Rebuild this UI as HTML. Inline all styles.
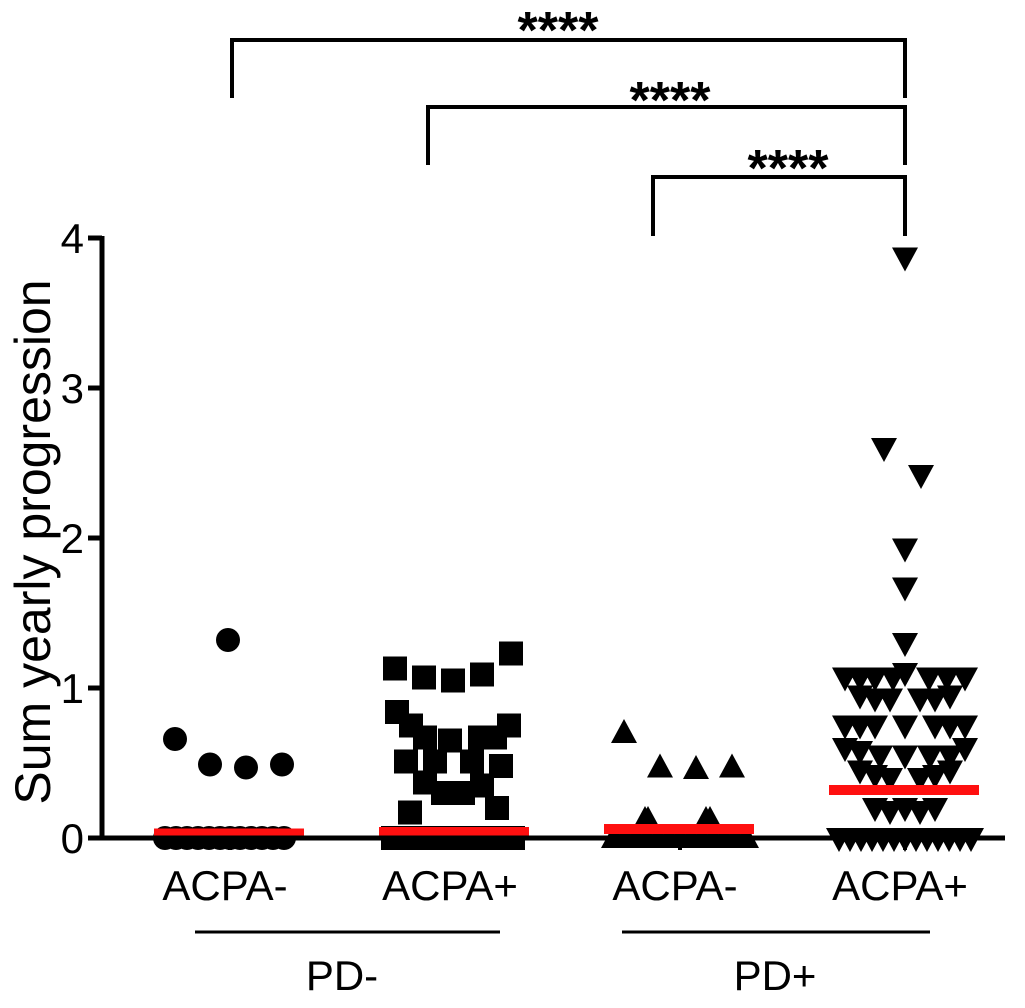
<!DOCTYPE html>
<html><head><meta charset="utf-8"><style>
body{margin:0;background:#fff}
svg{display:block;font-family:"Liberation Sans",Arial,sans-serif}
</style></head><body>
<svg id="chart" width="1025" height="1008" viewBox="0 0 1025 1008"></svg>
<script>
const categories=["ACPA-","ACPA+","ACPA-","ACPA+"];
const groups=["PD-","PD+"];
const yTicks=[0,1,2,3,4];
const medians=[0.03,0.04,0.06,0.32];
// values per group, with horizontal jitter (px offset from centre)
const g1Vals=[1.32,0.66,0.49,0.47,0.49,0,0,0,0,0,0,0,0,0,0,0,0];
const g1Jit=[-2,-55,-20,16,52,-65,-54,-43,-32,-21,-10,0,10,21,32,43,54];
const g2Vals=[1.13,1.07,1.05,1.09,1.23,0.84,0.75,0.67,0.65,0.67,0.75,0.67,0.51,0.51,0.51,0.48,0.37,0.30,0.30,0.35,0.17,0.20,0,0,0,0,0,0,0,0,0,0,0];
const g2Jit=[-60,-31,-2,27,56,-58,-44,-30,-5,25,54,40,-49,-20,17,46,-30,-12,8,27,-45,42,-62,-50,-38,-26,-14,-2,10,22,34,46,58];
const g3Vals=[0.70,0.47,0.46,0.47,0.12,0.12,0.12,0.12,0,0,0,0,0,0,0,0,0,0,0,0,0];
const g3Jit=[-56,-20,16,52,-35,-32,26,30,-66,-55,-44,-33,-22,-11,0,11,22,33,44,55,66];
const g4Vals=[3.87,2.6,2.42,1.93,1.67,1.3,1.07,1.07,1.07,1.07,1.07,1.07,1.07,1.1,0.95,0.93,0.93,0.93,0.93,0.95,0.75,0.75,0.75,0.75,0.75,0.75,0.75,0.6,0.58,0.55,0.55,0.55,0.55,0.6,0.45,0.42,0.4,0.4,0.42,0.45,0.2,0.18,0.2,0.18,0.2,0,0,0,0,0,0,0,0,0,0,0,0,0];
const g4Jit=[0,-21,16,0,0,0,-60,-45,-30,-12,24,42,60,0,-45,-30,-15,15,30,45,-60,-45,-30,0,30,45,60,-60,-45,-25,0,25,45,60,-45,-30,-15,15,30,45,-30,-15,0,15,30,-66,-55,-44,-33,-22,-11,0,11,22,33,44,55,66];
const allVals=[g1Vals,g2Vals,g3Vals,g4Vals];
const allJit=[g1Jit,g2Jit,g3Jit,g4Jit];
const shapes=["circle","square","tri","tridown"];

const svg=document.getElementById('chart');
const NS="http://www.w3.org/2000/svg";
const y0=838,pxPerUnit=150;
const yS=v=>y0-v*pxPerUnit;
const xS=i=>230+i*225;
function el(t,a,p){const e=document.createElementNS(NS,t);for(const k in a)e.setAttribute(k,a[k]);(p||svg).appendChild(e);return e;}

allVals.forEach((vals,gi)=>{
  const g=el('g',{});
  
  
  vals.forEach((v,j)=>{
    const cx=xS(gi)+allJit[gi][j],cy=yS(v);let m;
    if(shapes[gi]==="circle")m=el('circle',{cx:cx,cy:cy,r:12,fill:'#000'},g);
    else if(shapes[gi]==="square")m=el('rect',{x:cx-12,y:cy-12,width:24,height:24,fill:'#000'},g);
    else if(shapes[gi]==="tri")m=el('polygon',{points:`${cx},${cy-14} ${cx-13},${cy+10} ${cx+13},${cy+10}`,fill:'#000'},g);
    else m=el('polygon',{points:`${cx},${cy+14} ${cx-13},${cy-10} ${cx+13},${cy-10}`,fill:'#000'},g);
    
    
  });
});
medians.forEach((m,i)=>{
  const r=el('rect',{x:xS(i)-76,y:yS(m)-5,width:150,height:10,fill:'#ff1010'});
  
  
});
const ya=el('line',{x1:102,y1:236,x2:102,y2:840,stroke:'#000','stroke-width':5});


const xa=el('line',{x1:100,y1:838,x2:1005,y2:838,stroke:'#000','stroke-width':5});


yTicks.forEach(t=>{
  el('line',{x1:88,y1:yS(t),x2:102,y2:yS(t),stroke:'#000','stroke-width':5});
  const tx=el('text',{x:84,y:yS(t)+15,'text-anchor':'end','font-size':42});
  tx.textContent=t;
  
  
});
categories.forEach((c,i)=>{
  el('line',{x1:xS(i),y1:838,x2:xS(i),y2:850,stroke:'#000','stroke-width':4});
  const tx=el('text',{x:xS(i)-5,y:900,'text-anchor':'middle','font-size':42});
  tx.textContent=c;
  
  
});
groups.forEach((g,i)=>{
  const x1=i?622:195,x2=i?930:500;
  const l=el('line',{x1:x1,y1:932,x2:x2,y2:932,stroke:'#000','stroke-width':3});
  
  
  const tx=el('text',{x:i?775:342,y:990,'text-anchor':'middle','font-size':42});
  tx.textContent=g;
  
  
});
const yt=el('text',{x:0,y:0,transform:'translate(50,542) rotate(-90)','text-anchor':'middle','font-size':50});
yt.textContent='Sum yearly progression';


const brackets=[[0,40,98,558,30],[1,107,165,670,100],[2,177,236,788,168]];
brackets.forEach(b=>{
  const x1=xS(b[0])+(b[0]===0?2:-27);
  const p=el('polyline',{points:`${x1},${b[2]} ${x1},${b[1]} 905,${b[1]} 905,${b[2]}`,fill:'none',stroke:'#000','stroke-width':4});
  
  
  const tx=el('text',{x:b[3],y:b[4]+18,'text-anchor':'middle','font-size':52,'font-weight':'bold'});
  tx.textContent='****';
  
  
});
</script>
</body></html>
